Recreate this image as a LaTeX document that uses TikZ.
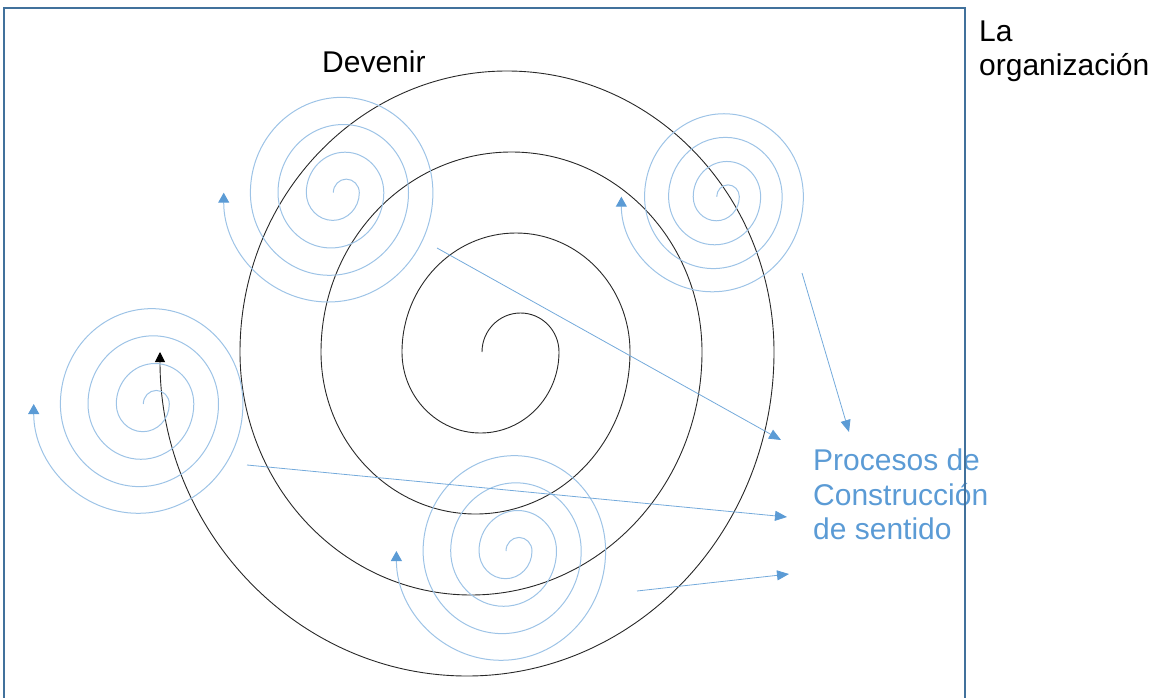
\documentclass[tikz,border=0pt]{standalone}
\usepackage{fontspec}
\setmainfont{Liberation Sans}
\usetikzlibrary{arrows.meta}
\definecolor{spiralblue}{RGB}{157,195,230}
\definecolor{accblue}{RGB}{91,155,213}
\definecolor{framecol}{RGB}{65,113,156}
\definecolor{darkline}{RGB}{40,40,40}
\tikzset{
  spiralline/.style={draw=spiralblue, line width=1pt, -{Triangle[width=11pt,length=10pt,color=accblue]}},
  bigline/.style={draw=darkline, line width=0.9pt, -{Triangle[width=10pt,length=10pt,color=black]}},
  straightarrow/.style={draw=accblue!85, line width=0.8pt, -{Triangle[width=10pt,length=12pt,color=accblue]}},
  framebox/.style={draw=framecol, line width=1.3pt},
  lbl/.style={inner sep=0pt, font=\fontsize{30}{34}\selectfont},
}
\newcommand\smallspiral[4]{%
  \coordinate (#1) at (#2,-#3);
  \draw[spiralline] (#1)
    arc[start angle=180,end angle=0,x radius={13*#4},y radius={13*#4*1.045}]
    arc[start angle=0,end angle=-180,x radius={26.5*#4},y radius={26.5*#4*1.045}]
    arc[start angle=180,end angle=0,x radius={38.75*#4},y radius={38.75*#4*1.045}]
    arc[start angle=0,end angle=-180,x radius={52.9*#4},y radius={52.9*#4*1.045}]
    arc[start angle=180,end angle=0,x radius={65.25*#4},y radius={65.25*#4*1.045}]
    arc[start angle=0,end angle=-180,x radius={79.05*#4},y radius={79.05*#4*1.045}]
    arc[start angle=180,end angle=0,x radius={91.25*#4},y radius={91.25*#4*1.045}]
    arc[start angle=0,end angle=-180,x radius={104.6*#4},y radius={104.6*#4*1.045}];
}
\begin{document}
\begin{tikzpicture}[x=1pt,y=1pt]
\useasboundingbox (0,0) rectangle (1158,-698);
% big black spiral
\coordinate (bigstart) at (482,-352);
\draw[bigline] (bigstart)
  arc[start angle=180,end angle=0,x radius=38.5,y radius=39]
  arc[start angle=0,end angle=-180,x radius=78.5,y radius=81]
  arc[start angle=180,end angle=0,x radius=114,y radius=119]
  arc[start angle=0,end angle=-180,x radius=154.5,y radius=162]
  arc[start angle=180,end angle=0,x radius=190.5,y radius=200]
  arc[start angle=0,end angle=-180,x radius=231,y radius=243]
  arc[start angle=180,end angle=0,x radius=267,y radius=281]
  arc[start angle=0,end angle=-180,x radius=307,y radius=324];
% small blue spirals
\smallspiral{sp1}{143.3}{404}{1}
\smallspiral{sp2}{333.3}{192.7}{1}
\smallspiral{sp3}{506}{551}{1}
\smallspiral{sp4}{716.7}{196.7}{0.87}
% straight arrows
\coordinate (a1s) at (437,-248);
\coordinate (a1e) at (781,-440);
\coordinate (a2s) at (802,-273);
\coordinate (a2e) at (849,-432);
\coordinate (a3s) at (247,-465);
\coordinate (a3e) at (787,-517);
\coordinate (a4s) at (637,-591);
\coordinate (a4e) at (789,-574);
\draw[straightarrow] (a1s) -- (a1e);
\draw[straightarrow] (a2s) -- (a2e);
\draw[straightarrow] (a3s) -- (a3e);
\draw[straightarrow] (a4s) -- (a4e);
% texts
\node[lbl, anchor=base west] (dev) at (322,-73) {Devenir};
\node[lbl, anchor=base west] (org1) at (979,-42) {La};
\node[lbl, anchor=base west] (org2) at (979,-76) {organización};
\node[lbl, text=accblue, anchor=base west] (p1) at (813,-470) {Procesos de};
\node[lbl, text=accblue, anchor=base west] (p2) at (813,-505) {Construcción};
\node[lbl, text=accblue, anchor=base west] (p3) at (813,-539.5) {de sentido};
% frame
\coordinate (f1) at (4,-700);
\coordinate (f2) at (4,-8);
\coordinate (f3) at (965,-8);
\coordinate (f4) at (965,-700);
\draw[framebox] (f1) -- (f2) -- (f3) -- (f4);
\end{tikzpicture}
\end{document}
